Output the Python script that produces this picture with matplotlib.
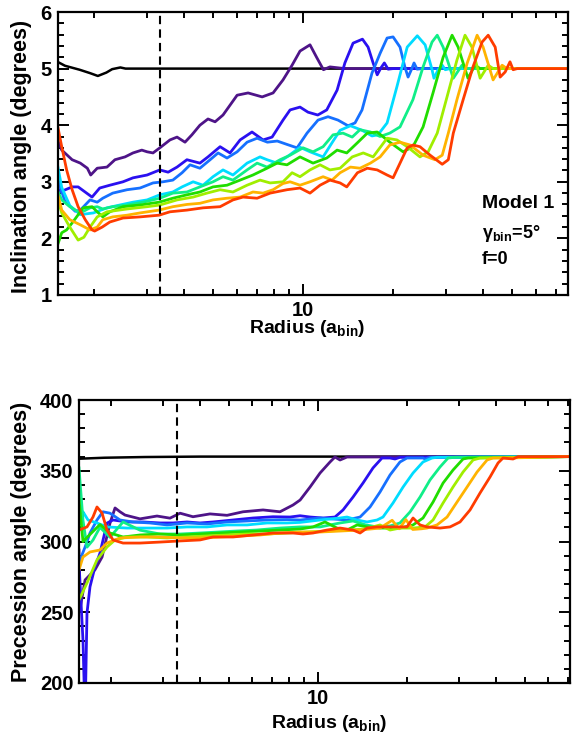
import matplotlib
matplotlib.use('Agg')
import matplotlib.pyplot as plt
from matplotlib.ticker import FixedLocator, NullFormatter

plt.rcParams['font.family'] = ['Liberation Sans', 'DejaVu Sans']
plt.rcParams['font.weight'] = 'bold'
plt.rcParams['axes.labelweight'] = 'bold'
plt.rcParams['mathtext.fontset'] = 'custom'
plt.rcParams['mathtext.rm'] = 'Liberation Sans:bold'
plt.rcParams['mathtext.bf'] = 'Liberation Sans:bold'
plt.rcParams['mathtext.it'] = 'Liberation Sans:bold'

# ---- inclination (top panel), radius in a_bin, angle in degrees ----
r_inc_black = [1.51, 1.60, 1.79, 1.94, 2.06, 2.20, 2.30, 2.45, 2.55, 76.9]
i_black = [5.12, 5.05, 4.98, 4.92, 4.87, 4.93, 4.99, 5.02, 5.00, 5.00]

r_inc_1 = [1.51, 1.56, 1.69, 1.80, 1.90, 1.95, 2.05, 2.21, 2.35, 2.54, 2.70, 2.89, 3.01, 3.15, 3.32, 3.59, 3.79, 4.03,
           4.25, 4.52, 4.81, 5.08, 5.40, 6.02, 6.55, 7.30, 7.94, 8.57, 9.19, 9.77, 10.55, 11.1, 11.7, 12.3, 13.8, 76.9]
i_1 = [3.74, 3.56, 3.39, 3.33, 3.24, 3.12, 3.24, 3.26, 3.39, 3.44, 3.51, 3.56, 3.53, 3.51, 3.60, 3.74, 3.79, 3.70,
       3.83, 4.00, 4.11, 4.06, 4.18, 4.53, 4.57, 4.50, 4.57, 4.80, 5.06, 5.31, 5.42, 5.20, 4.98, 5.03, 5.00, 5.00]

r_inc_2 = [1.51, 1.54, 1.69, 1.77, 1.97, 2.09, 2.26, 2.50, 2.70, 3.01, 3.32, 3.54, 3.79, 4.09, 4.52, 4.81, 5.28, 5.70,
           6.16, 6.75, 7.35, 7.88, 8.57, 9.05, 9.77, 10.39, 11.2, 12.0, 13.0, 13.8, 14.7, 15.8, 16.5, 17.15, 17.7, 18.2,
           18.7, 19.25, 20.0, 76.9]
i_2 = [2.90, 2.82, 2.91, 2.91, 2.73, 2.89, 2.94, 3.00, 3.07, 3.12, 3.21, 3.17, 3.26, 3.39, 3.33, 3.44, 3.62, 3.51,
       3.74, 3.88, 3.74, 3.79, 4.09, 4.27, 4.32, 4.23, 4.18, 4.27, 4.62, 5.10, 5.45, 5.52, 5.38, 5.10, 4.89, 5.01,
       5.10, 4.99, 5.00, 5.00]

r_inc_3 = [1.51, 1.60, 1.73, 1.80, 1.94, 2.05, 2.14, 2.31, 2.58, 2.85, 3.15, 3.40, 3.67, 3.94, 4.19, 4.52, 4.89, 5.20,
           5.57, 6.02, 6.50, 7.02, 7.60, 8.20, 8.84, 9.55, 10.31, 11.22, 12.12, 13.09, 14.14, 14.92, 15.75, 17.0, 18.1,
           19.1, 20.0, 21.1, 21.9, 22.45, 23.15, 23.5, 24.06, 25.0, 76.9]
i_3 = [3.05, 2.65, 2.48, 2.50, 2.68, 2.64, 2.71, 2.80, 2.86, 2.89, 2.98, 3.00, 3.03, 3.16, 3.30, 3.24, 3.39, 3.51,
       3.42, 3.53, 3.70, 3.77, 3.70, 3.72, 3.66, 3.60, 3.86, 4.09, 4.15, 4.09, 3.99, 4.04, 4.27, 4.92, 5.27,
       5.54, 5.56, 5.38, 5.03, 4.85, 5.01, 5.10, 4.99, 5.00, 5.00]

r_inc_4 = [1.51, 1.56, 1.66, 1.80, 1.99, 2.21, 2.44, 2.70, 3.01, 3.32, 3.67, 3.94, 4.29, 4.63, 5.00, 5.40, 5.83, 6.50,
           7.18, 7.58, 8.19, 8.84, 9.77, 10.55, 11.67, 12.5, 13.3, 14.4, 15.75, 17.0, 17.8, 19.1, 20.6, 22.3, 24.1,
           25.6, 27.0, 27.4, 28.3, 29.2, 29.9, 31.0, 76.9]
i_4 = [3.30, 2.90, 2.58, 2.42, 2.45, 2.54, 2.59, 2.64, 2.68, 2.77, 2.82, 2.91, 3.00, 2.94, 3.09, 3.21, 3.12, 3.33,
       3.44, 3.39, 3.33, 3.44, 3.61, 3.53, 3.44, 3.69, 3.91, 3.99, 3.91, 3.81, 3.83, 4.04, 4.68, 5.38, 5.58,
       5.42, 4.98, 4.83, 4.98, 5.06, 4.98, 5.00, 5.00]

r_inc_5 = [1.51, 1.56, 1.66, 1.80, 1.94, 2.05, 2.14, 2.31, 2.58, 2.92, 3.32, 3.67, 4.09, 4.52, 5.00, 5.40, 5.83, 6.50,
           7.02, 7.58, 8.38, 9.05, 10.0, 10.8, 11.67, 12.6, 13.6, 14.6, 15.5, 16.8, 18.1, 19.5, 21.1, 23.3, 25.2,
           27.0, 28.1, 29.4, 31.8, 34.0, 35.4, 76.9]
i_5 = [2.85, 2.68, 2.56, 2.45, 2.54, 2.56, 2.52, 2.56, 2.59, 2.64, 2.71, 2.80, 2.82, 2.91, 3.00, 3.09, 3.03, 3.21,
       3.33, 3.26, 3.39, 3.47, 3.60, 3.53, 3.62, 3.83, 3.86, 3.79, 3.92, 3.88, 3.80, 3.86, 3.97, 4.45, 5.03,
       5.47, 5.59, 5.38, 4.83, 5.06, 5.00, 5.00]

r_inc_6 = [1.51, 1.56, 1.62, 1.70, 1.84, 1.97, 2.05, 2.14, 2.26, 2.50, 2.85, 3.30, 3.67, 4.09, 4.52, 5.00, 5.57, 6.16,
           6.80, 7.58, 8.19, 8.84, 9.77, 10.8, 12.0, 13.0, 14.0, 15.2, 16.4, 17.7, 19.5, 21.6, 23.3, 25.2, 27.2,
           29.4, 31.5, 33.0, 35.6, 37.6, 39.1, 76.9]
i_6 = [1.88, 2.10, 2.15, 2.29, 2.54, 2.56, 2.47, 2.38, 2.47, 2.56, 2.59, 2.64, 2.71, 2.77, 2.82, 2.91, 2.94, 3.03,
       3.12, 3.24, 3.33, 3.30, 3.44, 3.33, 3.42, 3.56, 3.51, 3.69, 3.86, 3.88, 3.70, 3.53, 3.62, 3.97, 4.57,
       5.20, 5.59, 5.38, 4.83, 5.06, 5.00, 5.00]

r_inc_7 = [1.51, 1.56, 1.66, 1.77, 1.85, 1.94, 2.05, 2.21, 2.58, 3.01, 3.32, 3.79, 4.29, 4.77, 5.28, 5.83, 6.50, 7.18,
           7.76, 8.57, 9.19, 9.77, 10.55, 11.4, 12.3, 13.3, 14.6, 15.9, 17.15, 19.1, 20.6, 22.3, 24.6, 26.2, 28.1,
           30.3, 32.7, 34.8, 36.7, 39.1, 41.6, 43.2, 76.9]
i_7 = [2.70, 2.45, 2.20, 1.97, 2.02, 2.20, 2.38, 2.47, 2.52, 2.56, 2.59, 2.68, 2.73, 2.80, 2.86, 2.82, 2.94, 3.03,
       2.98, 3.00, 3.16, 3.09, 3.21, 3.30, 3.21, 3.24, 3.44, 3.51, 3.44, 3.77, 3.74, 3.62, 3.44, 3.53, 3.86,
       4.50, 5.15, 5.59, 5.38, 4.83, 5.06, 5.00, 5.00]

r_inc_8 = [1.51, 1.56, 1.66, 1.80, 1.94, 2.05, 2.14, 2.31, 2.58, 2.85, 3.30, 3.67, 4.09, 4.52, 5.00, 5.57, 6.16, 6.80,
           7.35, 7.94, 8.57, 9.05, 9.77, 10.55, 11.67, 12.5, 13.3, 14.4, 15.5, 16.8, 18.1, 19.5, 21.1, 22.8, 25.2,
           27.6, 29.2, 30.6, 32.7, 35.4, 38.2, 40.0, 43.2, 46.3, 48.1, 76.9]
i_8 = [2.80, 2.50, 2.33, 2.24, 2.15, 2.20, 2.33, 2.38, 2.41, 2.45, 2.50, 2.56, 2.60, 2.62, 2.68, 2.71, 2.73, 2.82,
       2.80, 2.86, 2.97, 3.00, 2.94, 3.00, 3.09, 3.03, 3.16, 3.26, 3.24, 3.33, 3.44, 3.65, 3.70, 3.65, 3.47,
       3.39, 3.47, 3.86, 4.45, 5.10, 5.59, 5.38, 4.80, 5.06, 5.00, 5.00]

r_inc_9 = [1.51, 1.56, 1.62, 1.69, 1.77, 1.87, 1.97, 2.01, 2.13, 2.26, 2.50, 2.85, 3.30, 3.59, 4.09, 4.63, 5.28, 5.83,
           6.30, 7.02, 7.76, 8.84, 9.77, 10.55, 11.4, 12.3, 13.3, 14.0, 15.2, 16.4, 17.7, 19.1, 20.0, 21.1, 22.3,
           23.3, 24.6, 26.6, 29.2, 30.6, 31.8, 34.3, 37.0, 39.7, 41.6, 43.9, 45.6, 47.4, 49.2, 50.4, 52.0, 76.9]
i_9 = [4.00, 3.62, 3.21, 2.86, 2.56, 2.33, 2.15, 2.13, 2.20, 2.29, 2.36, 2.38, 2.41, 2.47, 2.50, 2.54, 2.56, 2.68,
       2.73, 2.71, 2.80, 2.86, 2.89, 2.80, 2.94, 3.03, 2.98, 2.91, 3.16, 3.24, 3.21, 3.12, 3.07, 3.33, 3.60,
       3.65, 3.62, 3.47, 3.31, 3.39, 3.86, 4.45, 5.03, 5.47, 5.59, 5.38, 4.85, 4.94, 5.12, 4.98, 5.00, 5.00]

# ---- precession (bottom panel), angle in degrees ----
r_pre_black = [1.558, 1.9, 2.6, 4.0, 71.0]
p_black = [358.5, 359.2, 359.7, 360.0, 360.0]

r_pre_1 = [1.558, 1.570, 1.633, 1.764, 1.864, 1.983, 2.062, 2.144, 2.228, 2.504, 2.858, 3.162, 3.419, 3.781, 4.317,
           4.928, 5.580, 6.521, 7.44, 8.234, 8.70, 9.40, 10.16, 10.98, 11.41, 11.87, 12.53, 71.0]
p_1 = [294.0, 252.0, 272.8, 280.0, 289.0, 313.0, 323.7, 321.0, 318.7, 316.0, 318.0, 316.5, 320.0, 317.5, 319.5,
       318.5, 321.0, 322.3, 321.0, 325.8, 329.3, 338.5, 348.4, 356.2, 359.7, 357.6, 359.7, 360.0]

r_pre_2 = [1.558, 1.607, 1.633, 1.658, 1.697, 1.764, 1.834, 1.937, 2.030, 2.263, 2.564, 2.926, 3.237, 3.609, 3.994,
           4.418, 5.163, 6.031, 7.047, 8.044, 8.70, 9.40, 10.40, 11.41, 12.15, 13.13, 14.19, 15.34, 16.45, 17.51,
           18.20, 18.92, 71.0]
p_2 = [285.0, 230.0, 175.0, 249.5, 268.0, 282.0, 291.8, 313.0, 315.2, 313.8, 313.8, 313.1, 313.1, 313.8, 313.1,
       313.8, 315.2, 316.6, 317.5, 317.3, 318.2, 317.3, 316.6, 317.3, 322.3, 331.4, 341.3, 352.0, 359.0, 359.0,
       358.3, 359.5, 360.0]

r_pre_3 = [1.558, 1.570, 1.633, 1.697, 1.792, 1.877, 1.983, 2.144, 2.371, 2.706, 3.090, 3.609, 4.217, 4.928, 5.756,
           6.726, 7.859, 8.70, 10.16, 11.24, 12.53, 13.87, 14.99, 16.20, 17.51, 18.92, 19.98, 22.63, 22.99, 23.90,
           71.0]
p_3 = [282.0, 287.0, 296.0, 306.0, 315.2, 321.0, 320.0, 315.2, 313.8, 313.1, 311.7, 313.1, 312.4, 313.8, 314.5,
       315.2, 315.5, 315.2, 316.6, 315.9, 315.2, 317.3, 324.4, 335.0, 347.0, 356.2, 359.0, 359.0, 358.3, 359.5,
       360.0]

r_pre_4 = [1.558, 1.607, 1.671, 1.792, 1.937, 2.263, 2.645, 3.090, 3.609, 4.217, 4.928, 5.756, 6.726, 7.859, 8.70,
           10.16, 11.87, 12.53, 13.55, 14.64, 15.83, 16.58, 17.92, 19.38, 20.94, 22.63, 24.28, 25.23, 71.0]
p_4 = [320.0, 321.0, 315.2, 313.1, 310.3, 309.5, 309.5, 309.5, 310.3, 310.3, 311.7, 311.7, 313.1, 313.1, 313.5,
       315.2, 316.6, 317.3, 315.2, 313.8, 315.2, 317.3, 327.2, 338.5, 348.4, 356.2, 359.0, 359.5, 360.0]

r_pre_5 = [1.558, 1.607, 1.658, 1.737, 1.834, 1.983, 2.194, 2.504, 2.926, 3.419, 3.994, 4.6, 5.3, 6.2, 7.44, 8.70,
           10.16, 11.87, 13.13, 14.5, 15.83, 17.51, 18.92, 20.46, 22.11, 23.90, 25.84, 27.50, 29.0, 71.0]
p_5 = [352.0, 315.0, 296.0, 301.0, 310.0, 303.0, 313.8, 308.0, 305.3, 305.3, 306.0, 306.7, 307.4, 308.1, 309.5,
       310.3, 310.3, 313.1, 314.5, 311.7, 310.3, 311.0, 313.1, 320.9, 331.4, 343.5, 352.7, 359.0, 359.5, 360.0]

r_pre_6 = [1.558, 1.607, 1.697, 1.834, 1.983, 2.194, 2.504, 2.926, 3.419, 3.994, 4.667, 5.452, 6.368, 7.44, 8.70,
           9.618, 10.56, 11.59, 12.53, 13.55, 14.64, 16.20, 18.92, 20.94, 22.63, 24.47, 26.45, 28.58, 30.90, 32.13,
           71.0]
p_6 = [330.0, 300.0, 305.0, 312.0, 306.0, 303.2, 304.6, 305.3, 304.6, 305.3, 306.0, 306.7, 307.4, 308.1, 308.8,
       310.3, 313.8, 309.5, 308.1, 311.7, 310.3, 309.5, 309.5, 311.7, 316.6, 327.9, 341.3, 350.5, 358.3, 359.0,
       360.0]

r_pre_7 = [1.558, 1.658, 1.792, 1.937, 2.062, 2.263, 2.645, 3.090, 3.609, 4.217, 4.928, 5.756, 6.726, 7.859, 9.2,
           10.72, 12.53, 14.4, 16.2, 17.51, 18.92, 20.94, 22.99, 24.47, 26.45, 28.58, 30.90, 33.40, 35.27, 71.0]
p_7 = [258.7, 270.7, 287.0, 296.1, 301.1, 303.2, 303.2, 302.5, 303.2, 303.9, 304.6, 305.3, 305.3, 306.0, 306.7,
       307.4, 308.1, 308.8, 311.7, 308.1, 309.5, 309.5, 310.3, 315.2, 327.2, 338.5, 349.1, 357.6, 359.0, 360.0]

r_pre_8 = [1.558, 1.607, 1.697, 1.834, 1.937, 2.144, 2.504, 2.926, 3.419, 3.994, 4.667, 5.452, 6.368, 7.44, 8.70,
           10.16, 11.87, 13.87, 16.2, 17.8, 18.8, 19.8, 20.9, 22.4, 23.35, 25.23, 27.29, 29.49, 31.88, 34.45, 37.24,
           39.02, 43.51, 71.0]
p_8 = [279.9, 289.0, 292.6, 294.0, 298.9, 302.5, 303.2, 303.2, 302.5, 302.5, 303.2, 303.9, 304.6, 306.0, 306.7,
       306.7, 307.4, 308.1, 309.5, 315.0, 309.0, 315.5, 308.5, 309.0, 309.5, 311.7, 317.3, 327.9, 338.5, 349.1,
       357.6, 359.0, 359.0, 360.0]

r_pre_9 = [1.558, 1.658, 1.737, 1.792, 1.864, 1.937, 2.030, 2.194, 2.504, 2.926, 3.419, 3.994, 4.418, 5.163, 6.031,
           7.047, 8.234, 8.899, 9.618, 10.72, 11.87, 13.13, 13.87, 14.64, 15.83, 18.49, 19.98, 20.94, 22.11, 23.35,
           25.84, 27.93, 30.18, 32.63, 35.27, 38.12, 40.57, 42.17, 45.59, 47.40, 71.0]
p_9 = [308.1, 310.3, 317.3, 324.4, 320.1, 308.1, 301.1, 298.9, 298.9, 299.6, 300.4, 301.1, 303.2, 303.2, 304.6,
       306.0, 306.0, 305.3, 306.0, 308.1, 309.5, 308.1, 306.0, 309.5, 310.3, 310.3, 310.3, 316.6, 311.7, 310.3,
       309.5, 310.3, 313.8, 322.3, 334.3, 345.6, 355.5, 359.0, 358.3, 360.0, 360.0]

colors = ['#4e1488', '#2a10f0', '#1670ff', '#00dcff', '#10ee88', '#20dd00', '#a0ee00', '#ffb300', '#ff3c00']

inc_curves = [(r_inc_1, i_1), (r_inc_2, i_2), (r_inc_3, i_3), (r_inc_4, i_4), (r_inc_5, i_5),
              (r_inc_6, i_6), (r_inc_7, i_7), (r_inc_8, i_8), (r_inc_9, i_9)]
pre_curves = [(r_pre_1, p_1), (r_pre_2, p_2), (r_pre_3, p_3), (r_pre_4, p_4), (r_pre_5, p_5),
              (r_pre_6, p_6), (r_pre_7, p_7), (r_pre_8, p_8), (r_pre_9, p_9)]

r_dash = 3.33
x_minor = [2, 3, 4, 5, 6, 7, 8, 9, 20, 30, 40, 50, 60, 70]

W, H = 572, 738
fig = plt.figure(figsize=(W / 100, H / 100), dpi=100)
ax1 = fig.add_axes([57.5 / W, 1 - 295 / H, 510.5 / W, 283 / H])
ax2 = fig.add_axes([79 / W, 1 - 683 / H, 491 / W, 283 / H])


def style(ax, xlim, ylim, yticks, yminor):
    ax.set_xscale('log')
    ax.set_xlim(*xlim)
    ax.set_ylim(*ylim)
    ax.set_xticks([10], ['10'], fontweight='bold')
    ax.xaxis.set_minor_locator(FixedLocator(x_minor))
    ax.xaxis.set_minor_formatter(NullFormatter())
    ax.set_yticks(yticks, [str(v) for v in yticks], fontweight='bold')
    ax.yaxis.set_minor_locator(FixedLocator(yminor))
    ax.tick_params(which='both', direction='in', top=True, right=True, width=1.4, labelsize=14.5)
    ax.tick_params(which='major', length=8, pad=4)
    ax.tick_params(which='minor', length=4)
    for s in ax.spines.values():
        s.set_linewidth(1.6)


# top: inclination
ax1.plot(r_inc_black, i_black, color='k', lw=1.8)
for (r, y), c in zip(inc_curves, colors):
    ax1.plot(r, y, color=c, lw=2.0)
ax1.axvline(r_dash, color='k', lw=1.5, ls=(0, (4, 2.5)))
style(ax1, (1.51, 76.9), (1, 6), [1, 2, 3, 4, 5, 6],
      [1.2, 1.4, 1.6, 1.8, 2.2, 2.4, 2.6, 2.8, 3.2, 3.4, 3.6, 3.8, 4.2, 4.4, 4.6, 4.8, 5.2, 5.4, 5.6, 5.8])
ax1.set_ylabel('Inclination angle (degrees)', fontsize=15.5, fontweight='bold')
ax1.yaxis.set_label_coords(-0.05, 0.49)
ax1.set_xlabel(r'Radius (a$_{\mathbf{bin}}$)', fontsize=14, fontweight='bold')
ax1.xaxis.set_label_coords(0.49, -0.082)
ax1.text(0.831, 0.325, 'Model 1', transform=ax1.transAxes, fontsize=14, fontweight='bold', va='center')
ax1.text(0.831, 0.219, r'γ$_{\mathbf{bin}}$=5°', transform=ax1.transAxes, fontsize=13, fontweight='bold',
         va='center')
ax1.text(0.831, 0.127, 'f=0', transform=ax1.transAxes, fontsize=13, fontweight='bold', va='center')

# bottom: precession
ax2.plot(r_pre_black, p_black, color='k', lw=1.8)
for (r, y), c in zip(pre_curves, colors):
    ax2.plot(r, y, color=c, lw=2.0)
ax2.axvline(r_dash, color='k', lw=1.5, ls=(0, (4, 2.5)))
style(ax2, (1.558, 71.0), (200, 400), [200, 250, 300, 350, 400],
      [v for v in range(210, 400, 10) if v % 50])
ax2.set_ylabel('Precession angle (degrees)', fontsize=15.5, fontweight='bold')
ax2.yaxis.set_label_coords(-0.095, 0.5)
ax2.set_xlabel(r'Radius (a$_{\mathbf{bin}}$)', fontsize=14, fontweight='bold')
ax2.xaxis.set_label_coords(0.51, -0.105)

fig.savefig('out.png', dpi=100)
